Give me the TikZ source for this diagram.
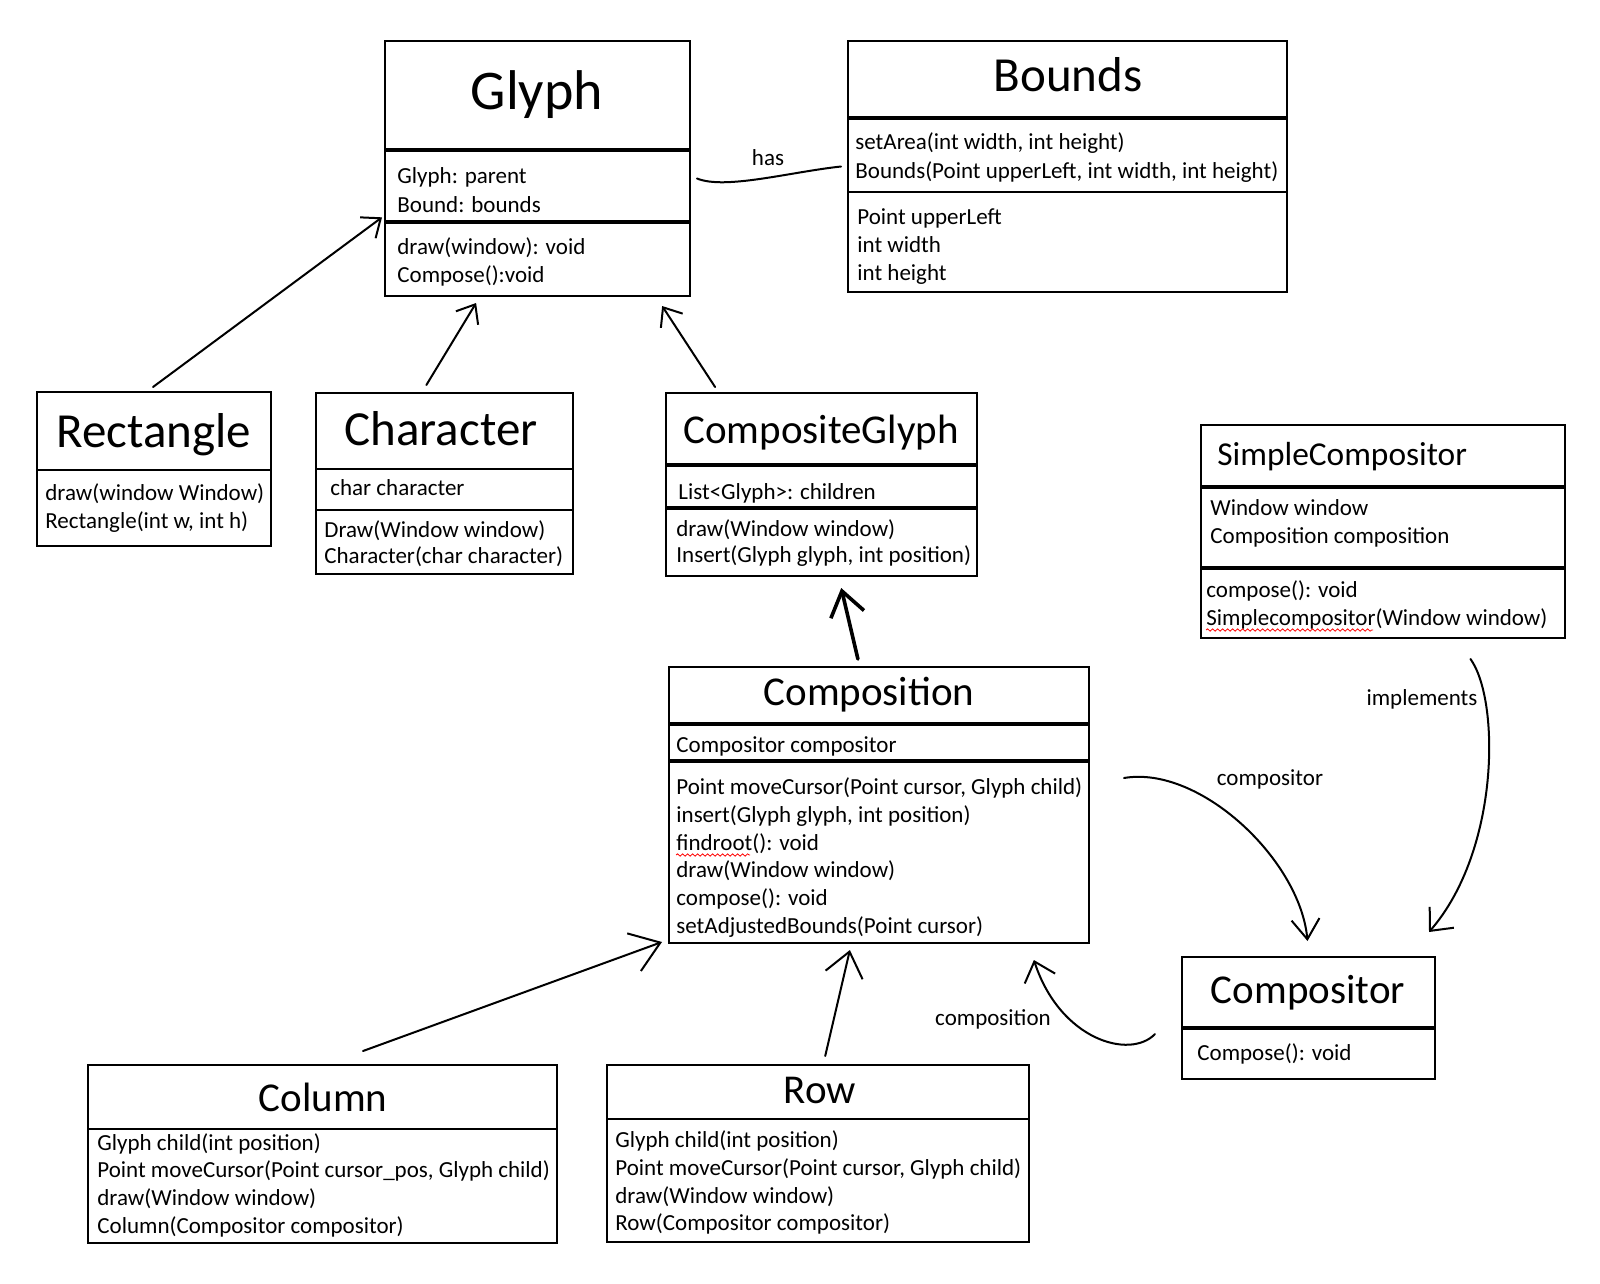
\documentclass[tikz,border=0pt]{standalone}
\usepackage{fontspec}
\setmainfont{Carlito}
\usetikzlibrary{arrows.meta,calc,fit,decorations.pathmorphing}
\newcommand\mybody{\fontsize{11.5}{14}\selectfont}
\newcommand\mytitle[1]{\fontsize{#1}{#1}\selectfont}
\begin{document}
\begin{tikzpicture}[x=0.5pt,y=-0.5pt,
  box/.style={draw, line width=1pt, inner sep=0pt, fit={#1}},
  sep/.style={line width=1pt},
  thk/.style={line width=1.6pt},
  txt/.style={anchor=base west, inner sep=0pt, font=\mybody},
  ttl/.style={anchor=base, inner sep=0pt, font=\mytitle{#1}},
  lbl/.style={anchor=base, inner sep=0pt, font=\mybody},
  conn/.style={line width=1pt, line cap=round, line join=round},
  tip/.style args={#1/#2}{-{Straight Barb[length=#1,width=#2]}},
  squig/.style={red, line width=0.4pt, decorate, decoration={snake, amplitude=0.6pt, segment length=2.5pt}}]
\fill[white] (0,0) rectangle (1600,1284);
\useasboundingbox (0,0) rectangle (1600,1284);

% Glyph
\node[box={(385,41) (690,296)}] (glyph) {};
\draw[thk] (385,150) -- (690,150);
\draw[thk] (385,222) -- (690,222);
\node[ttl=28] (glyph-t) at (537,110) {Glyph};
\node[txt] (glyph-a1) at (397,184) {Glyph: parent};
\node[txt] (glyph-a2) at (397,212) {Bound: bounds};
\node[txt] (glyph-m1) at (397,254) {draw(window): void};
\node[txt] (glyph-m2) at (397,282) {Compose():void};

% Bounds
\node[box={(848,41) (1287,292)}] (bounds) {};
\draw[thk] (848,118) -- (1287,118);
\draw[sep] (848,192) -- (1287,192);
\node[ttl=24.5] (bounds-t) at (1068,91) {Bounds};
\node[txt] (bounds-m1) at (855,149) {setArea(int width, int height)};
\node[txt] (bounds-m2) at (855,178) {Bounds(Point upperLeft, int width, int height)};
\node[txt] (bounds-a1) at (857,224) {Point upperLeft};
\node[txt] (bounds-a2) at (857,252) {int width};
\node[txt] (bounds-a3) at (857,280) {int height};

% Rectangle
\node[box={(37,392) (271,546)}] (rect) {};
\draw[sep] (37,470) -- (271,470);
\node[ttl=24.5] (rect-t) at (154,447) {Rectangle};
\node[txt] (rect-m1) at (45,500) {draw(window Window)};
\node[txt] (rect-m2) at (45,528) {Rectangle(int w, int h)};

% Character
\node[box={(316,393) (573,574)}] (char) {};
\draw[sep] (316,469) -- (573,469);
\draw[sep] (316,510) -- (573,510);
\node[ttl=24.5] (char-t) at (441,445) {Character};
\node[txt] (char-a1) at (330,495) {char character};
\node[txt] (char-m1) at (324,537) {Draw(Window window)};
\node[txt] (char-m2) at (324,563) {Character(char character)};

% CompositeGlyph
\node[box={(666,393) (977,576)}] (cg) {};
\draw[thk] (666,465) -- (977,465);
\draw[thk] (666,508) -- (977,508);
\node[ttl=20.5] (cg-t) at (821,443) {CompositeGlyph};
\node[txt] (cg-a1) at (678,499) {List<Glyph>: children};
\node[txt] (cg-m1) at (676,536) {draw(Window window)};
\node[txt] (cg-m2) at (676,562) {Insert(Glyph glyph, int position)};

% SimpleCompositor
\node[box={(1201,425) (1565,638)}] (sc) {};
\draw[line width=2pt] (1201,487) -- (1565,487);
\draw[thk] (1201,568) -- (1565,568);
\node[anchor=base west, inner sep=0pt, font=\mytitle{16.7}] (sc-t) at (1217,465) {SimpleCompositor};
\node[txt] (sc-a1) at (1210,515) {Window window};
\node[txt] (sc-a2) at (1210,543) {Composition composition};
\node[txt] (sc-m1) at (1206,597) {compose(): void};
\node[txt] (sc-m2) at (1206,625) {Simplecompositor(Window window)};
\draw[squig] (1206,630) -- (1373,630);

% Composition
\node[box={(669,667) (1089,943)}] (comp) {};
\draw[line width=2pt] (669,724) -- (1089,724);
\draw[line width=2pt] (669,761) -- (1089,761);
\node[ttl=20.5] (comp-t) at (869,705) {Composition};
\node[txt] (comp-a1) at (676,752) {Compositor compositor};
\node[txt] (comp-m1) at (676,794) {Point moveCursor(Point cursor, Glyph child)};
\node[txt] (comp-m2) at (676,822) {insert(Glyph glyph, int position)};
\node[txt] (comp-m3) at (676,850) {findroot(): void};
\node[txt] (comp-m4) at (676,877) {draw(Window window)};
\node[txt] (comp-m5) at (676,905) {compose(): void};
\node[txt] (comp-m6) at (676,933) {setAdjustedBounds(Point cursor)};
\draw[squig] (676,855) -- (750,855);

% Compositor
\node[box={(1182,957) (1435,1079)}] (cmpstr) {};
\draw[thk] (1182,1028) -- (1435,1028);
\node[ttl=20.5] (cmpstr-t) at (1308,1003) {Compositor};
\node[txt] (cmpstr-m1) at (1197,1060) {Compose(): void};

% Column
\node[box={(88,1065) (557,1243)}] (col) {};
\draw[sep] (88,1129) -- (557,1129);
\node[ttl=20.5] (col-t) at (323,1111) {Column};
\node[txt] (col-m1) at (97,1150) {Glyph child(int position)};
\node[txt] (col-m2) at (97,1177) {Point moveCursor(Point cursor\_pos, Glyph child)};
\node[txt] (col-m3) at (97,1205) {draw(Window window)};
\node[txt] (col-m4) at (97,1233) {Column(Compositor compositor)};

% Row
\node[box={(607,1065) (1029,1242)}] (row) {};
\draw[sep] (607,1119) -- (1029,1119);
\node[ttl=20.5] (row-t) at (820,1103) {Row};
\node[txt] (row-m1) at (615,1147) {Glyph child(int position)};
\node[txt] (row-m2) at (615,1175) {Point moveCursor(Point cursor, Glyph child)};
\node[txt] (row-m3) at (615,1203) {draw(Window window)};
\node[txt] (row-m4) at (615,1230) {Row(Compositor compositor)};

% labels
\node[lbl] (has-l) at (768,165) {has};
\node[lbl] (compositor-l) at (1270,785) {compositor};
\node[lbl] (implements-l) at (1422,705) {implements};
\node[lbl] (composition-l) at (993,1025) {composition};

% connectors
\draw[conn,tip=8pt/13pt] ($(rect.north)+(-1,-4)$) -- ($(glyph.south west)!0.31!(glyph.north west)+(-2,0)$);
\draw[conn,tip=8pt/13pt] ($(char.north west)!0.43!(char.north east)+(0,-7)$) -- ($(glyph.south west)!0.30!(glyph.south east)+(0,6)$);
\draw[conn,tip=8pt/13pt] ($(cg.north west)!0.16!(cg.north east)+(0,-5)$) -- ($(glyph.south west)!0.906!(glyph.south east)+(0,9)$);
\draw[conn] ($(glyph.east)+(6,10)$) .. controls (725,190) and (790,172) .. ($(bounds.west)+(-6,0)$);
\draw[conn,line width=1.8pt,tip=12pt/17pt] ($(comp.north west)!0.45!(comp.north east)+(0,-7)$) -- ($(cg.south west)!0.563!(cg.south east)+(0,11)$);
\draw[conn,tip=14pt/20pt] ($(col.north west)!0.586!(col.north east)+(0,-13)$) -- ($(comp.south west)+(-6,-2)$);
\draw[conn,tip=12pt/19pt] ($(row.north west)!0.517!(row.north east)+(0,-8)$) -- ($(comp.south west)!0.431!(comp.south east)+(0,6)$);
\draw[conn,tip=9pt/16pt] ($(cmpstr.west)+(-26,16)$) .. controls (1130,1060) and (1060,1040) .. ($(comp.south west)!0.867!(comp.south east)+(0,16)$);
\draw[conn,tip=10pt/14pt] ($(comp.east)+(34,-27)$) .. controls (1200,765) and (1300,860) .. ($(cmpstr.north)+(-1,-15)$);
\draw[conn,tip=9pt/16pt] ($(sc.south west)!0.739!(sc.south east)+(0,20)$) .. controls (1500,700) and (1500,850) .. ($(cmpstr.north east)+(-7,-24)$);
\end{tikzpicture}
\end{document}
